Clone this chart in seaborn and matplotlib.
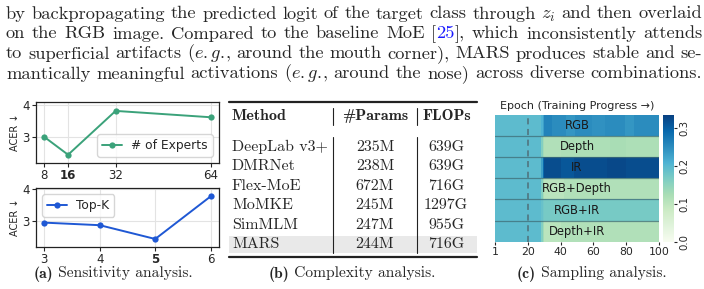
import matplotlib
matplotlib.use("Agg")
import matplotlib.pyplot as plt
import seaborn as sns
import numpy as np
import pandas as pd

W, H = 704, 289

#### data
experts = [8, 16, 32, 64]
acer_experts = [3.0, 2.44, 3.82, 3.62]
topk = [3, 4, 5, 6]
acer_topk = [2.96, 2.88, 2.45, 3.78]

methods = ["DeepLab v3+", "DMRNet", "Flex-MoE", "MoMKE", "SimMLM", "MARS"]
params = ["235M", "238M", "672M", "245M", "247M", "244M"]
flops = ["639G", "639G", "716G", "1297G", "955G", "716G"]

modalities = ["RGB", "Depth", "IR", "RGB+Depth", "RGB+IR", "Depth+IR"]
epochs = list(range(1, 101))
warm = [0.195] * 28
p_rgb = warm + [0.21, 0.23] + [0.26]*5 + [0.25]*8 + [0.24]*6 + [0.25]*10 + [0.245]*8 + [0.25]*12 + [0.24]*6 + [0.25]*15
p_depth = warm + [0.16, 0.13] + [0.115]*10 + [0.12]*30 + [0.125]*10 + [0.12]*20
p_ir = warm + [0.23, 0.29] + [0.32]*10 + [0.31]*8 + [0.32]*20 + [0.325]*12 + [0.32]*20
p_rgb_depth = warm + [0.16, 0.125] + [0.105]*12 + [0.115]*58
p_rgb_ir = warm + [0.185, 0.175] + [0.17]*70
p_depth_ir = warm + [0.16, 0.13] + [0.105]*10 + [0.115]*60

para_lines = [
    "by backpropagating the predicted logit of the target class through $z_i$ and then overlaid",
    "on the RGB image. Compared to the baseline MoE [25], which inconsistently attends",
    "to superficial artifacts (e.g., around the mouth corner), MARS produces stable and se-",
    "mantically meaningful activations (e.g., around the nose) across diverse combinations.",
]

#### style
sns.set_style("ticks")
plt.rcParams['font.family'] = ['DejaVu Sans']
plt.rcParams['mathtext.fontset'] = 'cm'
plt.rcParams['axes.unicode_minus'] = False
plt.rcParams['axes.edgecolor'] = '#222222'

fig = plt.figure(figsize=(W/100, H/100), dpi=100)

def px_axes(l, t, r, b):
    return fig.add_axes([l/W, 1-b/H, (r-l)/W, (b-t)/H])

ov = fig.add_axes([0, 0, 1, 1])
ov.set_xlim(0, W); ov.set_ylim(H, 0); ov.axis("off")
rend = fig.canvas.get_renderer()

R = dict(family="cmr10")
B = dict(family="cmb10")
BLUE = dict(family="cmr10", color="#1a1aff")

def word_pieces(w):
    if "$" in w:
        return [(w, R)]
    if w.startswith("(e.g.,"):
        return [("(", R), (r"$\mathit{e.g.}$", R), (",", R)]
    if w == "[25],":
        return [("[", R), ("25", BLUE), ("],", R)]
    return [(w, R)]

def make_run(pieces, y, size):
    out, tot = [], 0
    for s, kw in pieces:
        t = ov.text(0, y, s, fontsize=size, va="baseline", ha="left", **kw)
        w = t.get_window_extent(rend).width
        out.append((t, w)); tot += w
    return out, tot

def remeasure(run, size):
    out, tot = [], 0
    for t, _ in run:
        t.set_fontsize(size)
        w = t.get_window_extent(rend).width
        out.append((t, w)); tot += w
    return out, tot

def centered(pieces, xc, y, size):
    run, tot = make_run(pieces, y, size)
    x = xc - tot/2
    for t, w in run:
        t.set_x(x); x += w

# paragraph: size from the tightest line, then justified
X0, X1 = 6, 702
lines = [[make_run(word_pieces(w), 18.5 + 20*i, 10) for w in line.split(" ")]
         for i, line in enumerate(para_lines)]
space10 = 0.30 * 10 * 100 / 72
size = min(10 * (X1 - X0) / (sum(w for _, w in ws) + (len(ws) - 1) * space10) for ws in lines)
for ws in lines:
    ws = [remeasure(run, size) for run, _ in ws]
    gap = (X1 - X0 - sum(w for _, w in ws)) / (len(ws) - 1)
    x = X0
    for run, _ in ws:
        for t, w in run:
            t.set_x(x); x += w
        x += gap

#### (a) sensitivity
green = "#3ba27a"
blue = "#1f58d4"
ax1 = px_axes(36, 102, 219, 163)
sns.lineplot(x=experts, y=acer_experts, marker="o", color=green, ax=ax1,
             label="# of Experts", markersize=4.5, markeredgewidth=0, linewidth=1.4)
ax1.set_xticks(experts)
ax1.set_ylim(2.18, 4.1)
ax1.legend(loc="lower right", fontsize=8.8, handlelength=1.6)

ax2 = px_axes(36, 188, 219, 247)
sns.lineplot(x=topk, y=acer_topk, marker="o", color=blue, ax=ax2,
             label="Top-K", markersize=4.5, markeredgewidth=0, linewidth=1.4)
ax2.set_xticks(topk)
ax2.set_ylim(2.2, 4.04)
ax2.legend(loc="upper left", fontsize=8.8, handlelength=1.6)

for ax, bold in [(ax1, "16"), (ax2, "5")]:
    ax.set_yticks([3, 4])
    ax.grid(True, color="#e3e3e3", linewidth=0.8)
    ax.set_ylabel("ACER ↓", fontsize=7, labelpad=2)
    ax.tick_params(labelsize=8.5, length=3, pad=1.5)
    for s in ax.spines.values():
        s.set_visible(True); s.set_linewidth(0.9)
    for lab in ax.get_xticklabels():
        if lab.get_text() == bold:
            lab.set_fontweight("bold")

CAP_Y = 277.5
centered([("(a)", B), (" Sensitivity analysis.", R)], 113, CAP_Y, 11.2)

#### (b) complexity table
x_l, x_r = 229, 477
ov.fill_between([x_l, x_r], 236, 253.3, color="#e9e9e9", lw=0, zorder=0)
ov.plot([x_l, x_r], [101.7, 101.7], color="#222222", lw=1.6)
ov.plot([x_l, x_r], [256.7, 256.7], color="#222222", lw=1.6)
for xv in [333.3, 416.7]:
    ov.plot([xv, xv], [108, 125], color="#222222", lw=0.8)
    ov.plot([xv, xv], [136.7, 253.3], color="#222222", lw=0.8)
ov.text(232, 120, "Method", fontsize=11.5, va="baseline", **B)
ov.text(375, 120, "#Params", fontsize=11.5, va="baseline", ha="center", **B)
ov.text(447, 120, "FLOPs", fontsize=11.5, va="baseline", ha="center", **B)
for i, (m, p, f) in enumerate(zip(methods, params, flops)):
    yb = 150.7 + 19.5*i
    ov.text(232, yb, m, fontsize=11.5, va="baseline", **R)
    ov.text(375, yb, p, fontsize=11.5, va="baseline", ha="center", **R)
    ov.text(446, yb, f, fontsize=11.5, va="baseline", ha="center", **R)
centered([("(b)", B), (" Complexity analysis.", R)], 351.7, CAP_Y, 11.2)

#### (c) sampling heatmap
probs = pd.DataFrame([p_rgb, p_depth, p_ir, p_rgb_depth, p_rgb_ir, p_depth_ir],
                     index=modalities, columns=epochs)
ax3 = px_axes(495, 115, 659, 241.7)
cax = px_axes(663, 115, 674, 241.7)
sns.heatmap(probs, cmap="GnBu", vmin=0, vmax=0.334, ax=ax3, cbar_ax=cax)
ax3.set_yticks([])
ax3.set_xticks([0, 20, 40, 60, 80, 100])
ax3.set_xticklabels(["1", "20", "40", "60", "80", "100"], rotation=0)
ax3.tick_params(axis="x", labelsize=7.8, length=2.5, pad=1.5)
ax3.set_xlabel(""); ax3.set_ylabel("")
for yv in range(1, 6):
    ax3.axhline(yv, color="#3f6d76", lw=0.9, alpha=0.75)
ax3.axvline(20, color="#4f6f78", lw=1.1, ls=(0, (4, 3)))
for i, m in enumerate(modalities):
    ax3.text(50, i + 0.5, m, ha="center", va="center", fontsize=8.3, color="#1a1a1a")
ax3.set_title("Epoch (Training Progress →)", fontsize=8, pad=4)
cbar = ax3.collections[0].colorbar
cbar.set_ticks([0, 0.1, 0.2, 0.3])
cbar.ax.tick_params(labelsize=7.3, length=2.5, pad=1.5)
for lab in cbar.ax.get_yticklabels():
    lab.set_rotation(90); lab.set_va("center")
centered([("(c)", B), (" Sampling analysis.", R)], 591.7, CAP_Y, 11.2)

fig.savefig("out.png", dpi=100)
